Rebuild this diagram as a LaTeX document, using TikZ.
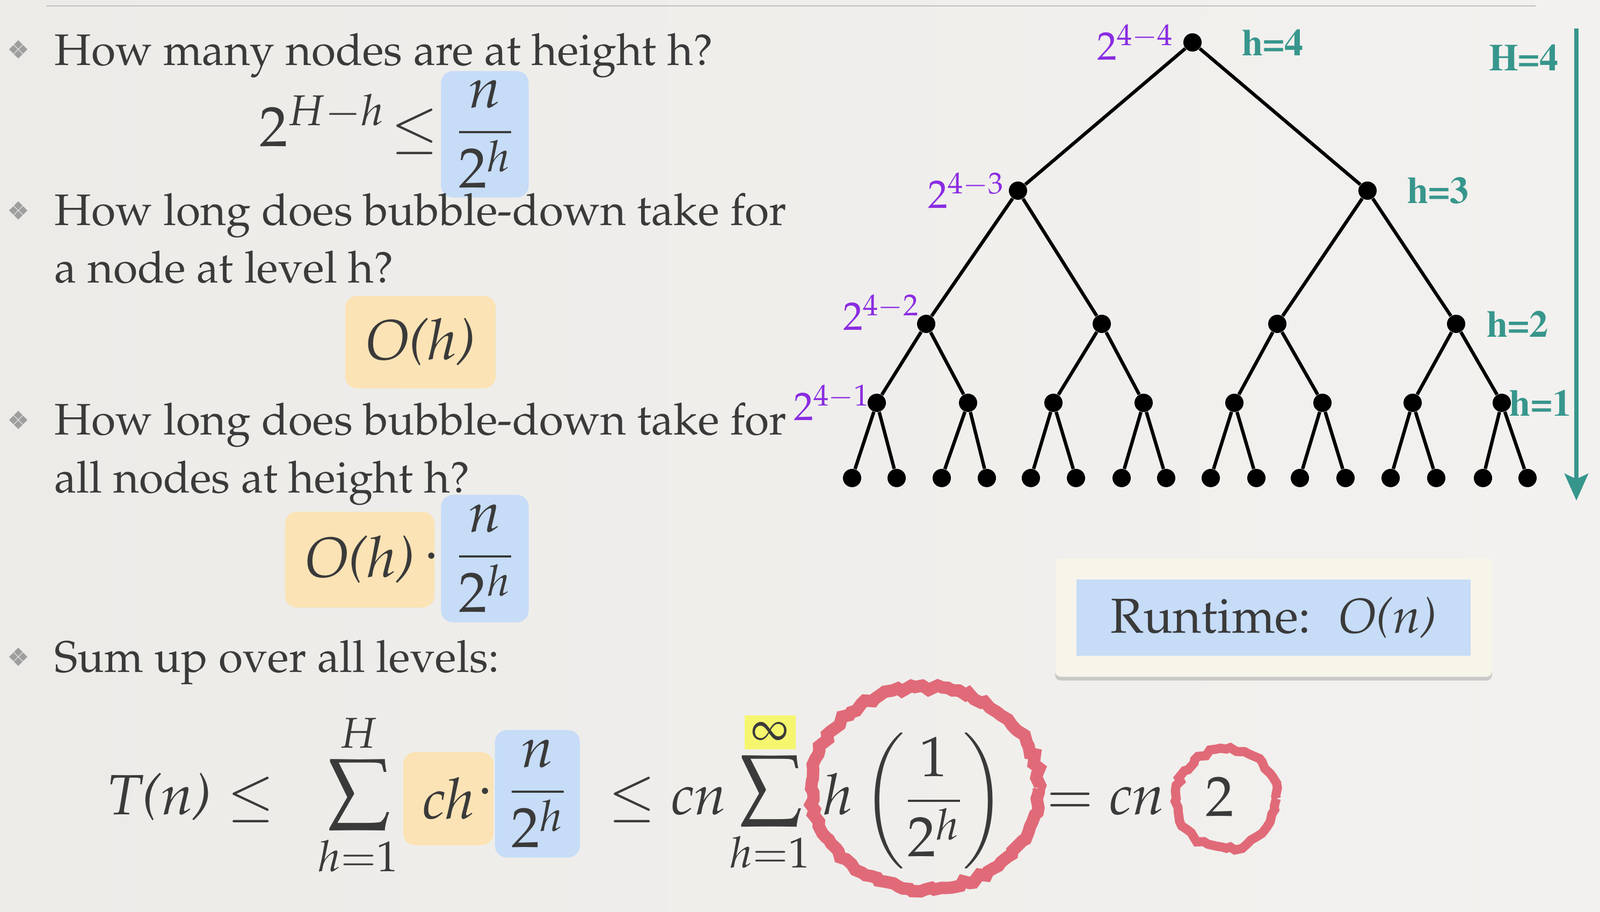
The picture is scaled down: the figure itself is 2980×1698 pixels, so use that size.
\documentclass[tikz,border=0pt]{standalone}
\usepackage[T1]{fontenc}
\usepackage{amsmath}
\usepackage{mathpazo}
\usetikzlibrary{positioning, arrows.meta, decorations.pathmorphing, shadows}

\definecolor{paper}{RGB}{236,235,232}
\definecolor{paperlight}{RGB}{242,241,239}
\definecolor{ink}{RGB}{58,58,58}
\definecolor{hlblue}{RGB}{198,220,247}
\definecolor{hlorange}{RGB}{251,227,181}
\definecolor{hlyellow}{RGB}{246,246,110}
\definecolor{ringred}{RGB}{224,92,108}
\definecolor{tealc}{RGB}{55,150,140}
\definecolor{violetc}{RGB}{138,43,226}
\definecolor{cream}{RGB}{247,244,234}

\begin{document}
\begin{tikzpicture} [
            x=0.01cm, y=-0.01cm,
            dot/.style      = { circle, fill=black, inner sep=0pt, minimum size=0.34cm },
            edgeline/.style = { draw, line width=1.8pt },
            body/.style     = { anchor=base west, inner sep=0pt, text=ink,
                                font=\fontsize{23.4}{28}\selectfont },
            formula/.style  = { inner sep=0pt, text=ink, font=\fontsize{30}{36}\selectfont },
            bluehl/.style   = { formula, fill=hlblue, rounded corners=0.22cm },
            orangehl/.style = { formula, fill=hlorange, rounded corners=0.22cm },
            plab/.style     = { inner sep=0pt, text=violetc, font=\fontsize{21}{24}\selectfont },
            hlab/.style     = { inner sep=0pt, text=tealc,
                                font=\fontfamily{ptm}\fontsize{20}{24}\bfseries },
            harrow/.style   = { draw=tealc, line width=2.1pt,
                                -{Stealth[length=0.5cm, width=0.44cm, inset=0.1cm]} },
            ring/.style     = { draw=ringred, line width=0.23cm, opacity=0.9, decorate,
                                decoration={random steps, segment length=3pt, amplitude=1.3pt} },
            gem/.pic        = { \foreach \gx/\gy in {0/-9, 9/0, 0/9, -9/0}
                                  \fill[black!38] (\gx,\gy-8) -- (\gx+8,\gy) -- (\gx,\gy+8) -- (\gx-8,\gy) -- cycle; },
          ]
          \useasboundingbox (0,0) rectangle (2980,1698);
          \shade [left color=paper, right color=paperlight] (0,0) rectangle (2980,1698);
          \draw [black!25, line width=0.8pt] (86,11) -- (2860,11);

          \pic at (34,92) {gem};
          \node (q1) [body] at (101,122) {How many nodes are at height h?};
          \node (cntfrac) [bluehl, minimum width=1.63cm, minimum height=2.35cm] at (903,250) {$\dfrac{n}{2^h}$};
          \node (cnt) [formula, anchor=base east, xshift=-1pt] at (cntfrac.base west) {$2^{H{-}h}\!\le$};

          \pic at (34,392) {gem};
          \node (q2) [body] at (101,420) {How long does bubble-down take for};
          \node (q2b) [body] at (101,527) {a node at level h?};
          \node (oh) [orangehl, minimum width=2.8cm, minimum height=1.72cm] at (783,637) {\textit{O(h)}};

          \pic at (34,782) {gem};
          \node (q3) [body] at (101,810) {How long does bubble-down take for};
          \node (q3b) [body] at (101,918) {all nodes at height h?};
          \node (ohall) [orangehl, minimum width=2.78cm, minimum height=1.78cm] at (670,1042) {\textit{O(h)}};
          \node (ohfrac) [bluehl, minimum width=1.63cm, minimum height=2.37cm] at (903,1040) {$\dfrac{n}{2^h}$};
          \node (dotA) [formula, anchor=base east] at (ohfrac.base west) {$\cdot$};

          \pic at (34,1223) {gem};
          \node (q4) [body] at (101,1252) {Sum up over all levels:};

          \node (tn) [formula, anchor=base west] at (200,1517) {$\textit{T(n)}\le$};
          \node (sig1) [formula] at (667,1480) {$\displaystyle\sum_{h{=}1}^{H}$};
          \node (ch) [orangehl, minimum width=1.68cm, minimum height=1.73cm] at (835,1487) {\textit{ch}};
          \node (chfrac) [bluehl, minimum width=1.58cm, minimum height=2.37cm] at (1001,1478) {$\dfrac{n}{2^h}$};
          \node (dotB) [formula, anchor=base east] at (chfrac.base west) {$\cdot$};
          \node (cn1) [formula, anchor=base west] at (1132,1517) {$\le\textit{cn}$};
          \node (sig2) [formula] at (1434,1474)
            {$\displaystyle\sum_{h{=}1}^{\setlength{\fboxsep}{3.5pt}\colorbox{hlyellow}{$\scriptstyle\infty$}}$};
          \node (hterm) [formula, anchor=base west] at (1532,1517) {$h\left(\dfrac{1}{2^h}\right)$};
          \node (cn2) [formula, anchor=base west] at (1948,1517) {$=\textit{cn}$};
          \node (two) [formula, anchor=base] at (2272,1520) {2};
          \draw [ring] (1723,1468) ellipse [x radius=212, y radius=188];
          \draw [ring, line width=0.17cm] (2284,1487) ellipse [x radius=93, y radius=92];

          \node (rtbox) [fill=cream, rounded corners=0.1cm, minimum width=8.13cm, minimum height=2.2cm,
                         drop shadow={shadow xshift=0pt, shadow yshift=-2pt, opacity=0.35}] at (2372,1150) {};
          \node (rt) [fill=hlblue, minimum width=7.34cm, minimum height=1.42cm, text=ink,
                      font=\fontsize{26}{30}\selectfont] at (rtbox) {Runtime: \ \textit{O(n)}};

          \node (r) [dot] at (2221,79) {};
          \node (a1) [dot] at (1896,355) {};
          \node (a2) [dot] at (2547,355) {};
          \node (b1) [dot] at (1725,603) {};
          \node (b2) [dot] at (2052,603) {};
          \node (b3) [dot] at (2379,603) {};
          \node (b4) [dot] at (2712,603) {};
          \foreach \x [count=\i] in {1633,1803,1962,2130,2299,2463,2631,2797}
            \node (c\i) [dot] at (\x,750) {};
          \foreach \x [count=\i] in {1587,1670,1754,1838,1920,2004,2089,2172,2255,2340,2421,2506,2590,2675,2762,2845}
            \node (d\i) [dot] at (\x,890) {};

          \draw [edgeline] (r) edge (a1) edge (a2);
          \draw [edgeline] (a1) edge (b1) edge (b2);
          \draw [edgeline] (a2) edge (b3) edge (b4);
          \draw [edgeline] (b1) edge (c1) edge (c2);
          \draw [edgeline] (b2) edge (c3) edge (c4);
          \draw [edgeline] (b3) edge (c5) edge (c6);
          \draw [edgeline] (b4) edge (c7) edge (c8);
          \foreach \i [evaluate=\i as \j using int(2*\i-1), evaluate=\i as \k using int(2*\i)] in {1,...,8}
            \draw [edgeline] (c\i) edge (d\j) edge (d\k);

          \node (p4) [plab, left=5pt of r] {$2^{4-4}$};
          \node (p3) [plab, left=2pt of a1] {$2^{4-3}$};
          \node (p2) [plab, left=-1.5pt of b1, yshift=6pt] {$2^{4-2}$};
          \node (p1) [plab, left=-1.5pt of c1] {$2^{4-1}$};
          \node (h4) [hlab, right=21pt of r] {h=4};
          \node (h3) [hlab, right=16pt of a2] {h=3};
          \node (h2) [hlab, right=11pt of b4] {h=2};
          \node (h1) [hlab, right=-1pt of c8] {h=1};

          \node (Hlab) [hlab] at (2838,107) {H=4};
          \coordinate (Htop) at (2936,53);
          \coordinate (Hbot) at (2936,932);
          \draw [harrow] (Htop) -- (Hbot);
        \end{tikzpicture}
\end{document}
